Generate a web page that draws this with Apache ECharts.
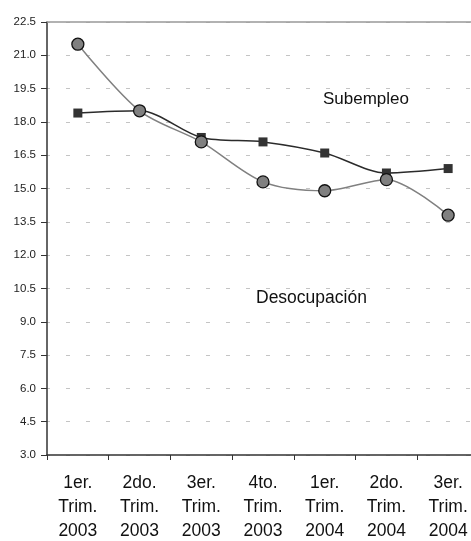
<!DOCTYPE html>
<html>
<head>
<meta charset="utf-8">
<script src="https://cdn.jsdelivr.net/npm/echarts@6/dist/echarts.min.js"></script>
<style>html,body{margin:0;padding:0;background:#fff;}#c{width:471px;height:541px;}</style>
</head>
<body>
<div id="c"></div>
<script>
var categories = ['1er.\nTrim.\n2003','2do.\nTrim.\n2003','3er.\nTrim.\n2003','4to.\nTrim.\n2003','1er.\nTrim.\n2004','2do.\nTrim.\n2004','3er.\nTrim.\n2004'];
var subempleo = [18.4, 18.5, 17.3, 17.1, 16.6, 15.7, 15.9];
var desocupacion = [21.5, 18.5, 17.1, 15.3, 14.9, 15.4, 13.8];
var yMin = 3.0, yMax = 22.5, yStep = 1.5;

var chart = echarts.init(document.getElementById('c'), null, {renderer: 'canvas'});
var font = '"Liberation Sans", Arial, sans-serif';
chart.setOption({
  animation: false,
  backgroundColor: '#fff',
  grid: {left: 47, top: 22, width: 432, height: 433, containLabel: false, outerBoundsMode: 'none'},
  xAxis: [{
    type: 'category',
    data: categories,
    boundaryGap: true,
    axisLine: {lineStyle: {color: '#333', width: 1.5}},
    axisTick: {show: true, length: 5, lineStyle: {color: '#333'}},
    axisLabel: {fontFamily: font, fontSize: 17.5, color: '#111', lineHeight: 24, margin: 16, interval: 0},
    splitLine: {show: false}
  }, {
    type: 'category',
    position: 'top',
    data: categories,
    axisLine: {lineStyle: {color: '#999', width: 1.5}},
    axisTick: {show: false},
    axisLabel: {show: false}
  }],
  yAxis: {
    type: 'value',
    min: yMin, max: yMax, interval: yStep,
    axisLine: {show: true, lineStyle: {color: '#333', width: 1.5}},
    axisTick: {show: true, length: 6, lineStyle: {color: '#333'}},
    axisLabel: {fontFamily: font, fontSize: 11.5, color: '#222', margin: 11,
      formatter: function (v) { return v.toFixed(1); }},
    splitLine: {show: true, lineStyle: {color: '#c4c4c4', type: [4, 16], dashOffset: 1, width: 1}}
  },
  series: [{
    name: 'Subempleo',
    type: 'line',
    data: subempleo,
    smooth: 0.3,
    symbol: 'rect',
    symbolSize: 9,
    lineStyle: {color: '#2b2b2b', width: 1.5},
    itemStyle: {color: '#333', borderColor: '#333', borderWidth: 0},
    z: 2
  }, {
    name: 'Desocupación',
    type: 'line',
    data: desocupacion,
    smooth: 0.3,
    symbol: 'circle',
    symbolSize: 12,
    lineStyle: {color: '#808080', width: 1.5},
    itemStyle: {color: '#808080', borderColor: '#111', borderWidth: 1.3},
    z: 3
  }],
  graphic: [{
    type: 'text', x: 323, y: 99,
    style: {text: 'Subempleo', font: '17px ' + font, fill: '#111', verticalAlign: 'middle', align: 'left'}
  }, {
    type: 'text', x: 256, y: 298,
    style: {text: 'Desocupación', font: '17.5px ' + font, fill: '#111', verticalAlign: 'middle', align: 'left'}
  }]
});
</script>
</body>
</html>
